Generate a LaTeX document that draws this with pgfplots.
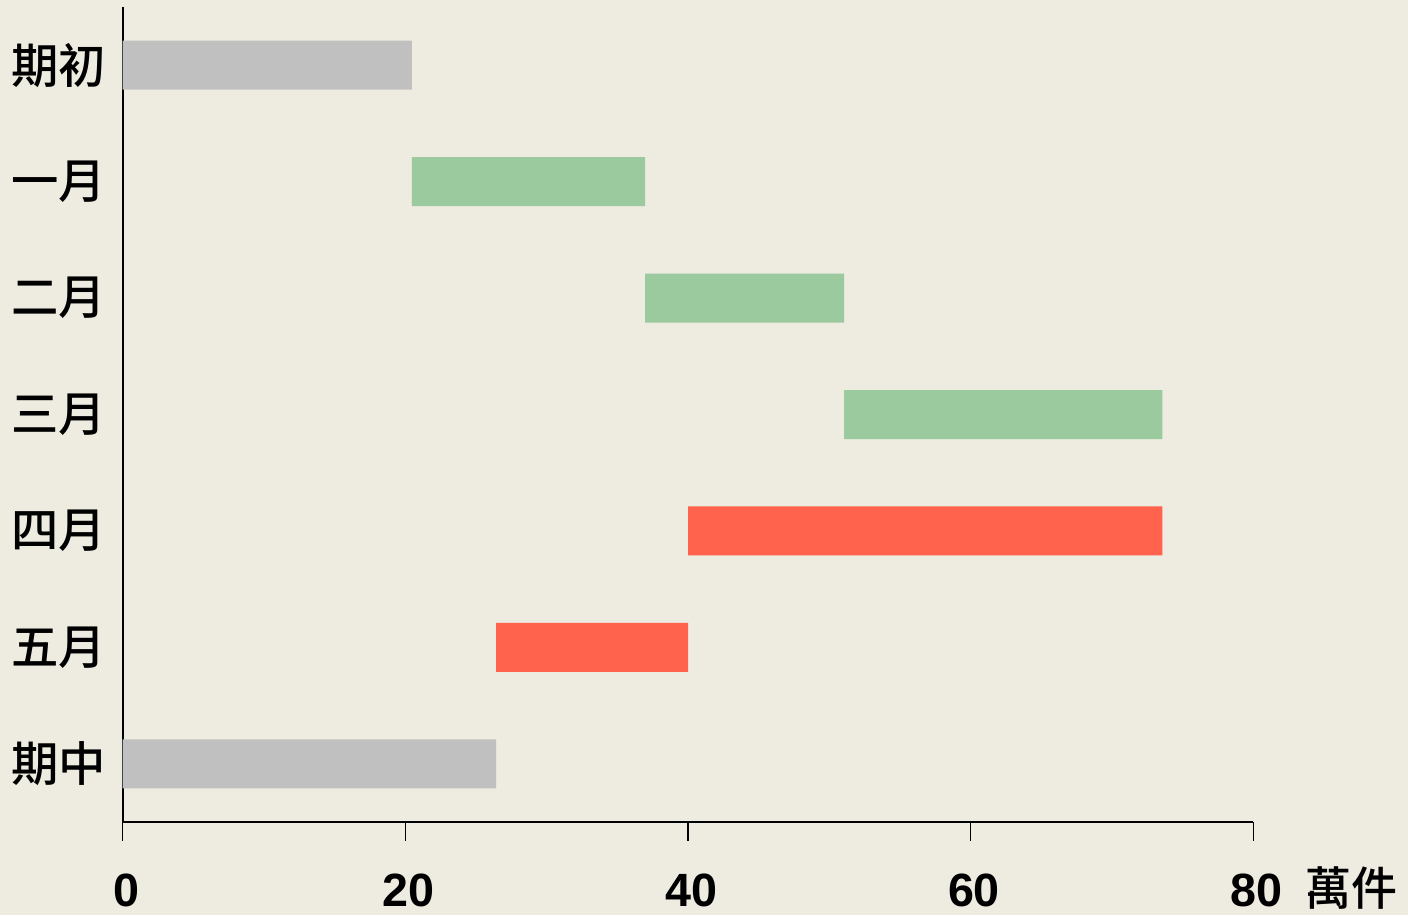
\documentclass[border=0pt]{standalone}
\usepackage{pgfplots}
\pgfplotsset{compat=1.18}
\usepackage{fontspec}
\setmainfont{Liberation Sans}
\newfontfamily\cjk{Noto Sans CJK TC}[UprightFont=* Medium]
\definecolor{bg}{HTML}{EEEBE0}
\definecolor{gbar}{HTML}{C0C0C0}
\definecolor{green}{HTML}{9BCA9F}
\definecolor{red}{HTML}{FF624D}
\begin{document}
\begin{tikzpicture}
\fill[bg] (-92.03pt,-69.75pt) rectangle (963.98pt,616.5pt);
\path[use as bounding box] (-92.03pt,-69.75pt) rectangle (963.98pt,616.5pt);
\begin{axis}[
  at={(0,0)}, anchor=south west,
  scale only axis, width=847.95pt, height=611.25pt,
  xbar stacked, bar width=36.75pt,
  xmin=0, xmax=80, ymin=-0.5, ymax=6.5,
  axis x line*=bottom, axis y line*=left,
  axis line style={line width=1.5pt, -},
  xtick={0,20,40,60,80},
  ytick={0,1,2,3,4,5,6},
  yticklabels={期中,五月,四月,三月,二月,一月,期初},
  ytick style={draw=none},
  xtick style={line width=1.1pt, black},
  tick align=outside, major tick length=14pt,
  /pgf/number format/assume math mode=true,
  xticklabel style={font=\bfseries\fontsize{35}{40}\selectfont, anchor=north, inner sep=0pt, yshift=-25pt, xshift=2.5pt},
  yticklabel style={font=\cjk\fontsize{35.5}{40}\selectfont, anchor=east, inner sep=0pt, xshift=1.5pt},
  clip=false,
]
\addplot[draw=none, fill=none] coordinates {(0,0) (26.42,1) (40.0,2) (51.04,3) (36.96,4) (20.47,5) (0,6)};
\addplot[draw=none, fill=gbar] coordinates {(26.42,0) (0,1) (0,2) (0,3) (0,4) (0,5) (20.47,6)};
\addplot[draw=none, fill=green] coordinates {(0,0) (0,1) (0,2) (22.52,3) (14.08,4) (16.49,5) (0,6)};
\addplot[draw=none, fill=red] coordinates {(0,0) (13.58,1) (33.56,2) (0,3) (0,4) (0,5) (0,6)};
\node[font=\cjk\fontsize{34.5}{40}\selectfont, anchor=center, inner sep=0pt] at (rel axis cs:1,0) [xshift=74pt, yshift=-49.5pt] {萬件};
\end{axis}
\end{tikzpicture}
\end{document}
